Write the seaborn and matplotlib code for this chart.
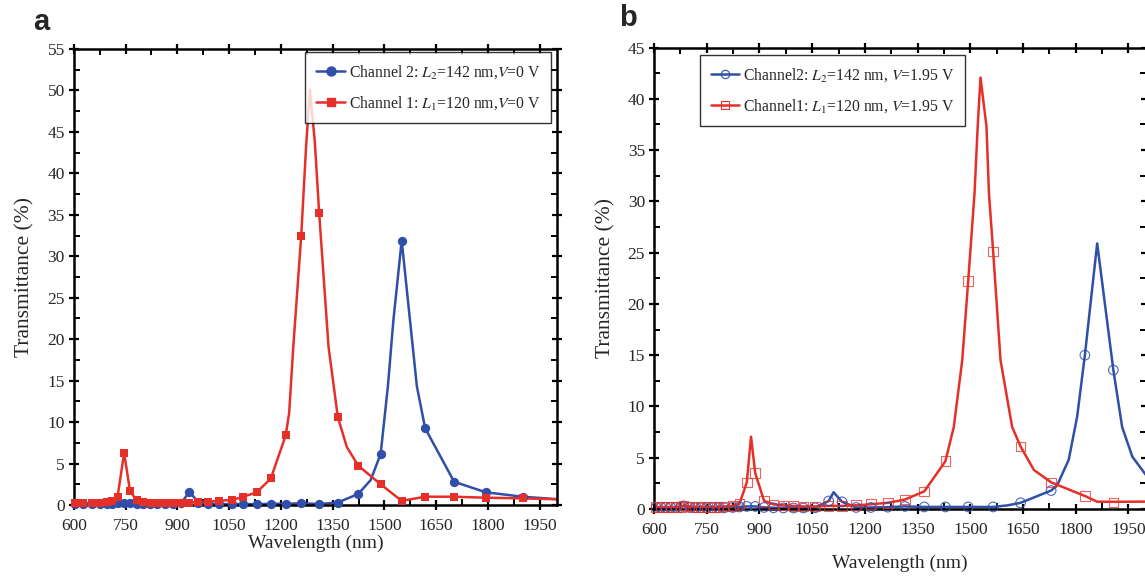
import matplotlib
matplotlib.use("Agg")
import matplotlib.pyplot as plt
from matplotlib.lines import Line2D
from matplotlib.ticker import MultipleLocator
import seaborn as sns

# ---- panel a (V = 0 V) ----
a_ch1_mx = [604, 628, 652, 676, 695, 712, 727, 746, 763, 782, 802, 821, 842, 865, 887, 911, 935, 961,
            990, 1022, 1058, 1091, 1130, 1171, 1214, 1259, 1311, 1365, 1424, 1489, 1550, 1618, 1702, 1794, 1900]
a_ch1_my = [0.2, 0.2, 0.2, 0.25, 0.35, 0.5, 1.0, 6.3, 1.7, 0.55, 0.35, 0.25, 0.25, 0.25, 0.25, 0.25, 0.3, 0.35,
            0.4, 0.52, 0.6, 1.0, 1.53, 3.2, 8.4, 32.5, 35.2, 10.6, 4.75, 2.5, 0.5, 1.0, 1.0, 0.88, 0.8]
a_ch1_lx = [604, 628, 652, 676, 695, 712, 727, 746, 763, 782, 802, 821, 842, 865, 887, 911, 935, 961,
            990, 1022, 1058, 1091, 1130, 1171, 1214, 1224, 1236, 1259, 1273, 1284, 1298, 1311, 1338, 1365,
            1391, 1424, 1489, 1550, 1618, 1702, 1794, 1900, 2000]
a_ch1_ly = [0.2, 0.2, 0.2, 0.25, 0.35, 0.5, 1.0, 6.3, 1.7, 0.55, 0.35, 0.25, 0.25, 0.25, 0.25, 0.25, 0.3, 0.35,
            0.4, 0.52, 0.6, 1.0, 1.53, 3.2, 8.4, 11.1, 19.1, 32.5, 43.2, 50.1, 44.0, 35.2, 19.1, 10.6,
            7.0, 4.75, 2.5, 0.5, 1.0, 1.0, 0.88, 0.8, 0.69]

a_ch2_mx = a_ch1_mx
a_ch2_my = [0.15, 0.15, 0.15, 0.15, 0.15, 0.15, 0.2, 0.2, 0.2, 0.15, 0.15, 0.15, 0.15, 0.15, 0.15, 0.2, 1.6, 0.3,
            0.15, 0.12, 0.1, 0.12, 0.1, 0.15, 0.15, 0.2, 0.12, 0.3, 1.33, 6.15, 31.9, 9.25, 2.8, 1.53, 1.0]
a_ch2_lx = [604, 628, 652, 676, 695, 712, 727, 746, 763, 782, 802, 821, 842, 865, 887, 911, 935, 961,
            990, 1022, 1058, 1091, 1130, 1171, 1214, 1259, 1311, 1365, 1424, 1460, 1489, 1510, 1526, 1550,
            1574, 1594, 1618, 1702, 1794, 1900, 2000]
a_ch2_ly = [0.15, 0.15, 0.15, 0.15, 0.15, 0.15, 0.2, 0.2, 0.2, 0.15, 0.15, 0.15, 0.15, 0.15, 0.15, 0.2, 1.6, 0.3,
            0.15, 0.12, 0.1, 0.12, 0.1, 0.15, 0.15, 0.2, 0.12, 0.3, 1.33, 3.0, 6.15, 14.3, 22.3, 31.9,
            22.3, 14.3, 9.25, 2.8, 1.53, 1.0, 0.7]

# ---- panel b (V = 1.95 V) ----
b_mx = [606, 620, 634, 648, 663, 677, 684, 701, 717, 734, 750, 767, 783, 800, 824, 843, 864, 888, 913, 940,
        968, 997, 1025, 1058, 1097, 1135, 1175, 1217, 1265, 1314, 1369, 1429, 1494, 1565, 1643, 1730, 1826, 1907]
b_ch1_my = [0.2, 0.2, 0.2, 0.2, 0.2, 0.2, 0.35, 0.25, 0.22, 0.22, 0.22, 0.22, 0.22, 0.25, 0.3, 0.5, 2.6, 3.5,
            0.8, 0.45, 0.35, 0.3, 0.25, 0.25, 0.3, 0.3, 0.36, 0.46, 0.6, 0.92, 1.72, 4.65, 22.25, 25.1, 6.1,
            2.6, 1.27, 0.65]
b_ch1_lx = [606, 620, 634, 648, 663, 677, 684, 701, 717, 734, 750, 767, 783, 800, 824, 843, 864, 876, 888, 913,
            940, 968, 997, 1025, 1058, 1097, 1135, 1175, 1217, 1265, 1314, 1369, 1429, 1453, 1477, 1494, 1512,
            1521, 1529, 1546, 1553, 1565, 1586, 1619, 1643, 1681, 1730, 1826, 1861, 1907, 2000]
b_ch1_ly = [0.2, 0.2, 0.2, 0.2, 0.2, 0.2, 0.35, 0.25, 0.22, 0.22, 0.22, 0.22, 0.22, 0.25, 0.3, 0.5, 2.6, 7.05,
            3.5, 0.8, 0.45, 0.35, 0.3, 0.25, 0.25, 0.3, 0.3, 0.36, 0.46, 0.6, 0.92, 1.72, 4.65, 8.0, 14.5,
            22.25, 30.8, 37.3, 42.07, 37.3, 30.8, 25.1, 14.5, 8.0, 6.1, 3.8, 2.6, 1.27, 0.71, 0.7, 0.72]

b_ch2_my = [0.15, 0.15, 0.15, 0.15, 0.15, 0.15, 0.3, 0.15, 0.12, 0.12, 0.12, 0.12, 0.12, 0.12, 0.15, 0.2, 0.25,
            0.25, 0.15, 0.12, 0.1, 0.1, 0.1, 0.12, 0.78, 0.7, 0.15, 0.15, 0.18, 0.25, 0.2, 0.2, 0.2, 0.2, 0.6,
            1.8, 15.0, 13.55]
b_ch2_lx = [606, 620, 634, 648, 663, 677, 684, 701, 717, 734, 750, 767, 783, 800, 824, 843, 864, 888, 913, 940,
            968, 997, 1025, 1058, 1097, 1111, 1135, 1175, 1217, 1265, 1314, 1369, 1429, 1494, 1565, 1605, 1643,
            1730, 1747, 1780, 1804, 1826, 1842, 1861, 1907, 1932, 1961, 2000]
b_ch2_ly = [0.15, 0.15, 0.15, 0.15, 0.15, 0.15, 0.3, 0.15, 0.12, 0.12, 0.12, 0.12, 0.12, 0.12, 0.15, 0.2, 0.25,
            0.25, 0.15, 0.12, 0.1, 0.1, 0.1, 0.12, 0.78, 1.63, 0.7, 0.15, 0.15, 0.18, 0.25, 0.2, 0.2, 0.2, 0.2,
            0.35, 0.6, 1.8, 2.3, 4.8, 9.0, 15.0, 20.0, 25.9, 13.55, 8.0, 5.1, 3.3]

RED = "#e5302a"
BLUE = "#2f4fa8"

sns.set_theme(style="ticks")
plt.rcParams["font.family"] = ["Liberation Serif", "DejaVu Serif"]
plt.rcParams["mathtext.fontset"] = "stix"

fig = plt.figure(figsize=(11.45, 5.78), dpi=100)
ax_a = fig.add_axes([0.0644, 0.1263, 0.4221, 0.7889])
ax_b = fig.add_axes([0.5712, 0.1194, 0.4297, 0.7984])


def style_axis(ax, ymax, xpad):
    ax.set_xlim(600, 2000)
    ax.set_ylim(0, ymax)
    ax.xaxis.set_major_locator(MultipleLocator(150))
    ax.xaxis.set_minor_locator(MultipleLocator(75))
    ax.yaxis.set_major_locator(MultipleLocator(5))
    ax.yaxis.set_minor_locator(MultipleLocator(2.5))
    ax.set_xticks(range(600, 2000, 150))
    ax.tick_params(which="major", direction="inout", length=7, width=1.6, labelsize=12.5,
                   top=True, right=True, color="black", pad=3)
    ax.tick_params(axis="x", which="major", pad=6)
    ax.tick_params(which="minor", direction="in", length=4, width=1.4, top=True, right=True, color="black")
    for s in ax.spines.values():
        s.set_linewidth(1.8)
        s.set_color("black")
    ax.set_xlabel("Wavelength (nm)", fontsize=14, labelpad=xpad)
    ax.set_ylabel("Transmittance (%)", fontsize=15.5, labelpad=9)


# panel a
sns.lineplot(x=a_ch2_lx, y=a_ch2_ly, ax=ax_a, color=BLUE, lw=1.8, sort=False, estimator=None)
sns.lineplot(x=a_ch1_lx, y=a_ch1_ly, ax=ax_a, color=RED, lw=1.8, sort=False, estimator=None)
sns.scatterplot(x=a_ch2_mx, y=a_ch2_my, ax=ax_a, color=BLUE, marker="o", s=45, linewidth=0, clip_on=False, zorder=3)
sns.scatterplot(x=a_ch1_mx, y=a_ch1_my, ax=ax_a, color=RED, marker="s", s=40, linewidth=0, clip_on=False, zorder=4)
style_axis(ax_a, 55, 0)
h_a = [Line2D([], [], color=BLUE, lw=1.8, marker="o", ms=6.5),
       Line2D([], [], color=RED, lw=1.8, marker="s", ms=6)]
leg = ax_a.legend(h_a, ["Channel 2: $L_2$=142 nm,$V$=0 V", "Channel 1: $L_1$=120 nm,$V$=0 V"],
                  loc="upper right", bbox_to_anchor=(0.988, 0.993), borderaxespad=0, fontsize=11.3,
                  frameon=True, fancybox=False, edgecolor="black", handlelength=1.8, handletextpad=0.25,
                  borderpad=0.7, labelspacing=0.85)
leg.get_frame().set_linewidth(1.0)

# panel b
sns.lineplot(x=b_ch2_lx, y=b_ch2_ly, ax=ax_b, color=BLUE, lw=1.8, sort=False, estimator=None)
sns.lineplot(x=b_ch1_lx, y=b_ch1_ly, ax=ax_b, color=RED, lw=1.8, sort=False, estimator=None)
ax_b.scatter(b_mx, b_ch2_my, s=48, marker="o", facecolors="none", edgecolors=BLUE, linewidths=0.8,
             alpha=0.85, clip_on=False, zorder=3)
ax_b.scatter(b_mx, b_ch1_my, s=48, marker="s", facecolors="none", edgecolors=RED, linewidths=0.8,
             alpha=0.75, clip_on=False, zorder=4)
style_axis(ax_b, 45, 12)
h_b = [Line2D([], [], color=BLUE, lw=1.8, marker="o", ms=6, mfc="none", mew=0.8),
       Line2D([], [], color=RED, lw=1.8, marker="s", ms=6, mfc="none", mew=0.8)]
leg = ax_b.legend(h_b, ["Channel2: $L_2$=142 nm, $V$=1.95 V", "Channel1: $L_1$=120 nm, $V$=1.95 V"],
                  loc="upper left", bbox_to_anchor=(0.0935, 0.984), borderaxespad=0, fontsize=11.3,
                  frameon=True, fancybox=False, edgecolor="black", handlelength=1.8, handletextpad=0.25,
                  borderpad=0.7, labelspacing=0.85)
leg.get_frame().set_linewidth(1.0)

fig.text(0.029, 0.962, "a", fontsize=21, fontweight="bold", family=["Liberation Sans", "DejaVu Sans"], va="center")
fig.text(0.541, 0.968, "b", fontsize=21, fontweight="bold", family=["Liberation Sans", "DejaVu Sans"], va="center")

fig.savefig("out.png", dpi=100)
